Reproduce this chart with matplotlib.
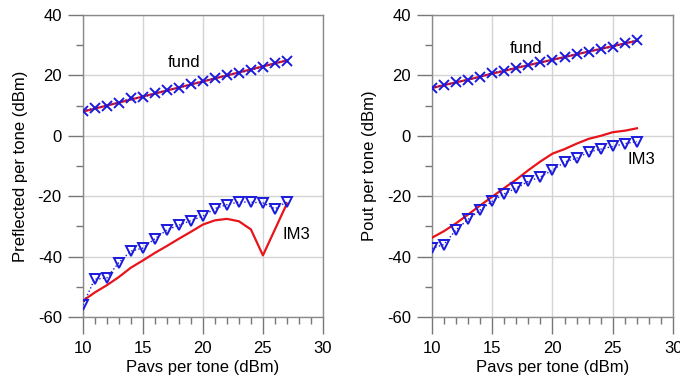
import matplotlib.pyplot as plt
from matplotlib.ticker import MultipleLocator

plt.rcParams['font.family'] = ['Liberation Sans', 'DejaVu Sans']
plt.rcParams['axes.unicode_minus'] = False

pavs = [10, 11, 12, 13, 14, 15, 16, 17, 18, 19, 20, 21, 22, 23, 24, 25, 26, 27]

# reflected power (left panel)
refl_fund_meas = [8.2, 9.3, 10.0, 11.0, 12.4, 12.8, 14.1, 15.1, 15.9, 17.0,
                  18.2, 19.0, 20.1, 20.9, 21.7, 22.9, 24.0, 24.9]
refl_fund_sim = [8.0, 9.0, 10.0, 11.0, 12.0, 13.0, 14.0, 15.0, 16.0, 17.0,
                 18.0, 19.0, 20.0, 21.0, 22.0, 23.0, 24.0, 25.0]
refl_im3_meas = [-56.1, -47.5, -47.1, -42.0, -38.2, -37.2, -34.1, -31.2, -29.6, -28.1,
                 -26.6, -24.1, -22.8, -21.9, -22.0, -22.2, -24.2, -21.8]
refl_im3_sim = [-54.7, -51.9, -49.5, -46.8, -43.7, -41.3, -38.8, -36.5, -34.1, -31.8,
                -29.4, -28.0, -27.5, -28.3, -31.0, -39.6, -31.0, -22.4]

# output power (right panel)
out_fund_meas = [15.7, 16.8, 17.7, 18.5, 19.4, 20.9, 21.6, 22.6, 23.4, 24.3,
                 25.1, 26.0, 27.1, 27.9, 28.7, 29.5, 30.6, 31.7]
out_fund_sim = [15.8, 16.8, 17.7, 18.6, 19.6, 20.6, 21.5, 22.5, 23.4, 24.3,
                25.2, 26.1, 27.0, 27.9, 28.8, 29.7, 30.6, 31.5]
out_im3_meas = [-37.3, -36.0, -31.2, -27.7, -24.6, -21.7, -19.2, -17.3, -15.1, -13.6,
                -11.4, -8.7, -7.4, -5.4, -4.4, -3.5, -2.6, -1.9]
out_im3_sim = [-33.8, -31.6, -29.0, -26.1, -23.1, -20.2, -17.3, -14.5, -11.4, -8.5,
               -5.9, -4.4, -2.6, -1.0, 0.0, 1.2, 1.7, 2.5]

panels = [
    (refl_fund_meas, refl_fund_sim, refl_im3_meas, refl_im3_sim,
     'Preflected per tone (dBm)', (18.4, 24.2), (26.6, -32.7)),
    (out_fund_meas, out_fund_sim, out_im3_meas, out_im3_sim,
     'Pout per tone (dBm)', (17.8, 28.9), (26.25, -7.7)),
]

fig = plt.figure(figsize=(6.8, 3.86), dpi=100)
ax_l = fig.add_axes([0.1216, 0.1788, 0.3534, 0.7822])
ax_r = fig.add_axes([0.6349, 0.1788, 0.3551, 0.7822])

for ax, (fm, fs, im, isim, ylab, fund_pos, im3_pos) in zip([ax_l, ax_r], panels):
    ax.plot(pavs, fs, color='#e8141c', lw=1.6, zorder=3)
    ax.plot(pavs, fm, color='#1a1adc', ls=':', lw=1.0, marker='x', ms=6.5,
            mew=1.4, zorder=4)
    ax.plot(pavs, isim, color='#e8141c', lw=1.6, zorder=3)
    ax.plot(pavs, im, color='#1a1adc', ls=':', lw=1.0, marker='v', ms=6.5,
            mew=1.4, mfc='none', zorder=4)

    ax.text(fund_pos[0], fund_pos[1], 'fund', fontsize=12, ha='center', va='center')
    ax.text(im3_pos[0], im3_pos[1], 'IM3', fontsize=12, ha='left', va='center')

    ax.set_xlim(10, 30)
    ax.set_ylim(-60, 40)
    ax.xaxis.set_major_locator(MultipleLocator(5))
    ax.xaxis.set_minor_locator(MultipleLocator(1))
    ax.yaxis.set_major_locator(MultipleLocator(20))
    ax.yaxis.set_minor_locator(MultipleLocator(10))
    ax.tick_params(which='major', direction='out', length=11, width=1,
                   color='#777777', labelsize=12, pad=4)
    ax.tick_params(which='minor', direction='out', length=5, width=1,
                   color='#777777')
    ax.tick_params(axis='x', which='major', length=12, pad=5)
    ax.grid(True, which='major', color='#d4d4d4', lw=1)
    ax.set_axisbelow(True)
    for sp in ax.spines.values():
        sp.set_color('#8a8a8a')
        sp.set_linewidth(1)

    ax.set_xlabel('Pavs per tone (dBm)', fontsize=12, labelpad=3)
    ax.set_ylabel(ylab, fontsize=12, labelpad=7)

fig.savefig('out.png', dpi=100)
